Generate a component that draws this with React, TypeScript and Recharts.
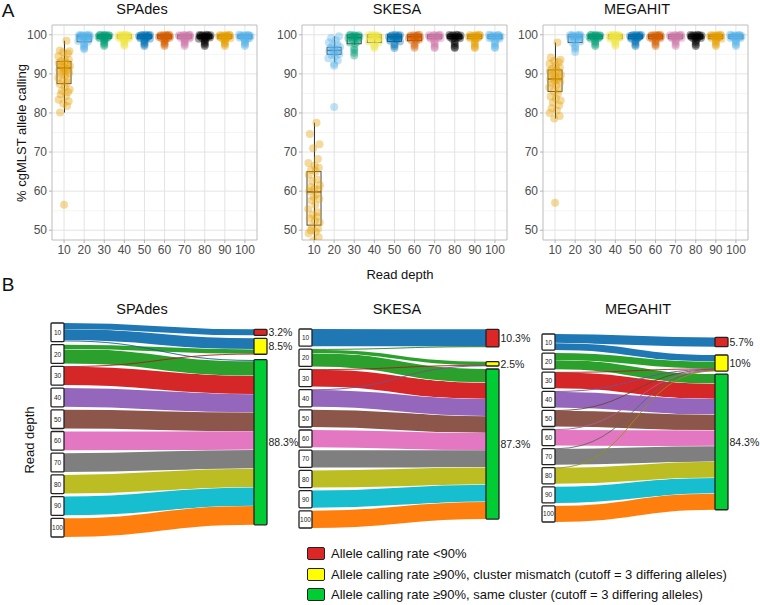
import React from "react";
import { ComposedChart, Scatter, Bar, XAxis, YAxis, CartesianGrid, Sankey } from "recharts";

const DEPTHS = [10, 20, 30, 40, 50, 60, 70, 80, 90, 100];
const X_POS = [1, 2, 3, 4, 5, 6, 7, 8, 9, 10];
const Y_TICKS = [50, 60, 70, 80, 90, 100];
const Y_MINOR = [55, 65, 75, 85, 95];

const DEPTH_COLORS = ["#E69F00", "#56B4E9", "#009E73", "#F0E442", "#0072B2", "#D55E00", "#CC79A7", "#000000", "#E69F00", "#56B4E9"];
const FLOW_COLORS = ["#1f77b4", "#2ca02c", "#d62728", "#9467bd", "#8c564b", "#e377c2", "#7f7f7f", "#bcbd22", "#17becf", "#ff7f0e"];
const OUTCOME_COLORS = ["#dd2626", "#ffff00", "#00cc33"];
const OUTCOMES = [
  "Allele calling rate <90%",
  "Allele calling rate ≥90%, cluster mismatch (cutoff = 3 differing alleles)",
  "Allele calling rate ≥90%, same cluster (cutoff = 3 differing alleles)",
];

// horizontal jitter (in category units)
const JITTER = [0.12, -0.21, 0.27, -0.05, 0.19, -0.28, 0.03, 0.24, -0.15, 0.08, -0.26, 0.16, -0.09, 0.29, -0.18, 0.01, 0.22, -0.24, 0.11, -0.02,
  0.26, -0.13, 0.06, -0.29, 0.18, -0.07, 0.14, -0.22, 0.04, 0.28, -0.11, 0.2, -0.17, 0.09, -0.27, 0.23, -0.04, 0.15, -0.2, 0.07];

// ---- SPAdes ----
const spadesPoints = [
  [98.5, 96.0, 95.8, 95.5, 95.2, 94.5, 94.0, 93.6, 93.3, 93.0, 92.8, 92.5, 92.3, 92.0, 91.8, 91.5, 91.3, 91.0, 90.7, 90.5, 90.2, 90.0, 89.6, 89.0, 88.6, 88.2, 87.8, 87.4, 86.6, 86.0, 85.7, 85.3, 84.8, 84.3, 83.4, 83.0, 82.4, 81.8, 80.1],
  [100, 99.95, 99.9, 99.85, 99.8, 99.75, 99.7, 99.6, 99.55, 99.5, 99.4, 99.3, 99.2, 99.0, 98.8, 98.6, 98.4, 98.2],
  [100, 99.95, 99.9, 99.9, 99.85, 99.8, 99.75, 99.7, 99.6, 99.5, 99.4, 99.3, 99.2, 99.1, 99.0],
  [100, 99.95, 99.9, 99.85, 99.8, 99.8, 99.7, 99.65, 99.6, 99.5, 99.4, 99.3, 99.2, 99.1, 99.0],
  [100, 99.95, 99.9, 99.9, 99.85, 99.8, 99.7, 99.7, 99.6, 99.5, 99.45, 99.3, 99.2, 99.1, 99.0],
  [100, 99.95, 99.9, 99.85, 99.8, 99.75, 99.7, 99.6, 99.6, 99.5, 99.4, 99.3, 99.2, 99.1, 99.0],
  [100, 99.95, 99.9, 99.9, 99.85, 99.8, 99.75, 99.7, 99.6, 99.5, 99.4, 99.35, 99.2, 99.1, 99.0],
  [100, 99.95, 99.9, 99.85, 99.85, 99.8, 99.7, 99.65, 99.6, 99.5, 99.4, 99.3, 99.2, 99.1, 99.0],
  [100, 99.95, 99.9, 99.9, 99.8, 99.75, 99.7, 99.6, 99.55, 99.5, 99.4, 99.3, 99.2, 99.1, 99.0],
  [100, 99.95, 99.9, 99.85, 99.8, 99.8, 99.7, 99.6, 99.6, 99.5, 99.4, 99.3, 99.2, 99.1, 99.0],
];
const spadesOutliers = [
  [56.5],
  [97.8, 97.4, 97.0, 96.6, 96.3],
  [98.7, 98.3, 97.9, 97.5, 97.1],
  [98.7, 98.3, 97.9, 97.5, 97.1],
  [98.7, 98.3, 97.9, 97.5, 97.1],
  [98.7, 98.3, 97.9, 97.5, 97.1],
  [98.7, 98.3, 97.9, 97.5, 97.1],
  [98.7, 98.3, 97.9, 97.5, 97.1],
  [98.7, 98.3, 97.9, 97.5, 97.1],
  [98.7, 98.3, 97.9, 97.5, 97.1],
];
// [min, q1, median, q3, max]
const spadesBoxes = [
  [80.1, 87.5, 91.5, 93.2, 98.5],
  [97.9, 98.2, 99.6, 99.95, 100],
  [99.0, 99.1, 99.7, 100, 100],
  [99.0, 99.1, 99.7, 100, 100],
  [99.0, 99.1, 99.7, 100, 100],
  [99.0, 99.1, 99.7, 100, 100],
  [99.0, 99.1, 99.7, 100, 100],
  [99.0, 99.1, 99.7, 100, 100],
  [99.0, 99.1, 99.7, 100, 100],
  [99.0, 99.1, 99.7, 100, 100],
];

// ---- SKESA ----
const skesaPoints = [
  [77.5, 74.6, 72.0, 71.0, 68.2, 67.2, 66.5, 66.0, 65.4, 65.0, 64.2, 63.0, 62.6, 61.5, 61.0, 60.6, 60.4, 60.0, 59.2, 58.5, 58.0, 57.6, 56.5, 55.4, 54.6, 54.0, 53.5, 53.0, 52.4, 52.0, 51.0, 50.4, 50.0, 49.6, 49.2, 48.2, 47.4],
  [99.6, 99.2, 98.6, 98.0, 97.6, 97.2, 96.9, 96.6, 96.4, 96.1, 95.9, 95.6, 95.4, 95.1, 94.8, 94.5, 94.0, 93.4],
  [100, 99.9, 99.85, 99.8, 99.7, 99.6, 99.5, 99.4, 99.3, 99.1, 98.9, 98.6, 98.3, 98.0, 97.7],
  [100, 99.9, 99.85, 99.8, 99.7, 99.6, 99.5, 99.4, 99.3, 99.2, 99.0, 98.8, 98.5, 98.2, 98.0],
  [100, 99.9, 99.85, 99.8, 99.7, 99.6, 99.5, 99.4, 99.3, 99.2, 99.0, 98.9, 98.7, 98.5, 98.3],
  [100, 99.9, 99.85, 99.8, 99.7, 99.6, 99.5, 99.4, 99.3, 99.2, 99.1, 99.0, 98.8, 98.6, 98.5],
  [100, 99.95, 99.9, 99.85, 99.8, 99.7, 99.6, 99.5, 99.4, 99.3, 99.2, 99.1, 99.0],
  [100, 99.95, 99.9, 99.85, 99.8, 99.7, 99.6, 99.5, 99.4, 99.3, 99.2, 99.1, 99.0],
  [100, 99.95, 99.9, 99.85, 99.8, 99.7, 99.6, 99.5, 99.4, 99.3, 99.2, 99.1, 99.0],
  [100, 99.95, 99.9, 99.85, 99.8, 99.7, 99.6, 99.5, 99.4, 99.3, 99.2, 99.1, 99.0],
];
const skesaOutliers = [
  [],
  [92.6, 92.1, 81.5],
  [96.6, 96.1, 95.4, 94.7],
  [97.4, 97.0, 96.6],
  [97.6, 97.1, 96.6],
  [97.7, 97.2, 96.7],
  [98.4, 97.9, 97.4, 96.9, 96.6],
  [98.4, 97.9, 97.4, 96.9, 96.6],
  [98.4, 97.9, 97.4, 96.9, 96.6],
  [98.4, 97.9, 97.4, 96.9, 96.6],
];
const skesaBoxes = [
  [45.0, 51.3, 59.8, 65.0, 77.5],
  [93.0, 95.0, 96.0, 96.8, 99.6],
  [97.4, 97.7, 99.3, 100, 100],
  [98.0, 98.0, 99.4, 100, 100],
  [98.3, 98.3, 99.5, 100, 100],
  [98.5, 98.5, 99.5, 100, 100],
  [99.0, 99.0, 99.6, 100, 100],
  [99.0, 99.0, 99.6, 100, 100],
  [99.0, 99.0, 99.6, 100, 100],
  [99.0, 99.0, 99.6, 100, 100],
];

// ---- MEGAHIT ----
const megahitPoints = [
  [98.0, 94.2, 93.6, 93.3, 93.0, 92.6, 92.1, 91.6, 91.3, 91.0, 90.8, 90.5, 90.1, 89.8, 89.5, 89.2, 89.0, 88.7, 88.5, 88.2, 87.9, 87.5, 87.0, 86.5, 86.0, 85.5, 85.0, 84.2, 83.7, 83.2, 82.7, 82.0, 81.2, 80.6, 80.0, 79.2, 78.6],
  [100, 99.95, 99.9, 99.85, 99.8, 99.7, 99.6, 99.5, 99.4, 99.3, 99.1, 98.9, 98.6, 98.3, 98.0],
  [100, 99.95, 99.9, 99.85, 99.8, 99.75, 99.7, 99.6, 99.5, 99.4, 99.3, 99.2, 99.1, 99.0],
  [100, 99.95, 99.9, 99.85, 99.8, 99.75, 99.7, 99.6, 99.5, 99.4, 99.3, 99.2, 99.1, 99.0],
  [100, 99.95, 99.9, 99.85, 99.8, 99.75, 99.7, 99.6, 99.5, 99.4, 99.3, 99.2, 99.1, 99.0],
  [100, 99.95, 99.9, 99.85, 99.8, 99.75, 99.7, 99.6, 99.5, 99.4, 99.3, 99.2, 99.1, 99.0],
  [100, 99.95, 99.9, 99.85, 99.8, 99.75, 99.7, 99.6, 99.5, 99.4, 99.3, 99.2, 99.1, 99.0],
  [100, 99.95, 99.9, 99.85, 99.8, 99.75, 99.7, 99.6, 99.5, 99.4, 99.3, 99.2, 99.1, 99.0],
  [100, 99.95, 99.9, 99.85, 99.8, 99.75, 99.7, 99.6, 99.5, 99.4, 99.3, 99.2, 99.1, 99.0],
  [100, 99.95, 99.9, 99.85, 99.8, 99.75, 99.7, 99.6, 99.5, 99.4, 99.3, 99.2, 99.1, 99.0],
];
const megahitOutliers = [
  [57.0],
  [97.4, 96.9, 96.4, 95.6],
  [98.5, 98.0, 97.5, 97.1],
  [98.5, 98.0, 97.5, 97.1],
  [98.5, 98.0, 97.5, 97.1],
  [98.5, 98.0, 97.5, 97.1],
  [98.5, 98.0, 97.5, 97.1],
  [98.5, 98.0, 97.5, 97.1],
  [98.5, 98.0, 97.5, 97.1],
  [98.5, 98.0, 97.5, 97.1],
];
const megahitBoxes = [
  [78.6, 85.5, 88.7, 91.0, 98.0],
  [97.8, 98.0, 99.5, 100, 100],
  [99.0, 99.0, 99.6, 100, 100],
  [99.0, 99.0, 99.6, 100, 100],
  [99.0, 99.0, 99.6, 100, 100],
  [99.0, 99.0, 99.6, 100, 100],
  [99.0, 99.0, 99.6, 100, 100],
  [99.0, 99.0, 99.6, 100, 100],
  [99.0, 99.0, 99.6, 100, 100],
  [99.0, 99.0, 99.6, 100, 100],
];

// ---- Sankey counts per read depth: <90%, mismatch, same cluster ----
const spadesRed = [15, 0, 0, 0, 0, 0, 0, 0, 0, 0];
const spadesYellow = [28, 11, 1, 0, 0, 0, 0, 0, 0, 0];
const spadesGreen = [4, 36, 46, 47, 47, 47, 47, 47, 47, 47];
const spadesShares = ["3.2%", "8.5%", "88.3%"];

const skesaRed = [40, 1, 0, 0, 0, 0, 0, 0, 0, 0];
const skesaYellow = [0, 8, 1, 1, 0, 0, 0, 0, 0, 0];
const skesaGreen = [0, 31, 39, 39, 40, 40, 40, 40, 40, 40];
const skesaShares = ["10.3%", "2.5%", "87.3%"];

const megahitRed = [23, 0, 0, 0, 0, 0, 0, 0, 0, 0];
const megahitYellow = [17, 17, 1, 1, 1, 1, 1, 1, 0, 0];
const megahitGreen = [0, 23, 39, 39, 39, 39, 39, 39, 40, 40];
const megahitShares = ["5.7%", "10%", "84.3%"];

const FONT = '"Liberation Sans", Arial, Helvetica, sans-serif';

function boxRows(stats: number[][]) {
  return stats.map((s, i) => ({ x: i + 1, whisker: [s[0], s[4]], box: [s[1], s[3]], q1: s[1], med: s[2], q3: s[3] }));
}

function pointRows(points: number[][], outliers: number[][]) {
  const rows: any[] = [];
  points.forEach((vals, i) =>
    vals.forEach((v, j) => rows.push({ x: i + 1 + JITTER[(j + i * 7) % JITTER.length], y: v, d: i }))
  );
  outliers.forEach((vals, i) => vals.forEach((v) => rows.push({ x: i + 1, y: v, d: i })));
  return rows;
}

const PointDot = (props: any) => {
  const { cx, cy, payload } = props;
  if (cx == null || cy == null) return null;
  return <circle cx={cx} cy={cy} r={4} fill={DEPTH_COLORS[payload.d]} fillOpacity={0.38} />;
};

const BoxShape = (props: any) => {
  const { x, y, width, height, payload } = props;
  const span = payload.q3 - payload.q1;
  const ym = span > 0 ? y + (height * (payload.q3 - payload.med)) / span : y;
  return (
    <g>
      <rect x={x} y={y} width={width} height={Math.max(height, 0)} fill="none" stroke="#333" strokeWidth={0.9} />
      <line x1={x} x2={x + width} y1={ym} y2={ym} stroke="#333" strokeWidth={1.4} />
    </g>
  );
};

function BoxPanel({ left, stats, points, outliers }: any) {
  const tick = { fontSize: 12, fill: "#4d4d4d" };
  return (
    <div style={{ position: "absolute", left, top: 0 }}>
      <ComposedChart width={262} height={262} data={boxRows(stats)} margin={{ top: 25, right: 5, bottom: 2, left: 22 }}>
        <CartesianGrid horizontalValues={Y_MINOR} vertical={false} stroke="#f0f0f0" strokeWidth={0.7} />
        <CartesianGrid horizontalValues={Y_TICKS} verticalValues={X_POS} stroke="#e3e3e3" />
        <CartesianGrid horizontalValues={[47.5, 102.5]} verticalValues={[0.4, 10.6]} stroke="#bdbdbd" />
        <XAxis
          type="number"
          dataKey="x"
          domain={[0.4, 10.6]}
          ticks={X_POS}
          interval={0}
          allowDataOverflow
          tickFormatter={(v) => String(DEPTHS[v - 1])}
          axisLine={false}
          tickLine={{ stroke: "#b3b3b3" }}
          tickSize={3}
          tickMargin={2}
          tick={tick}
          height={20}
        />
        <XAxis xAxisId="wh" type="number" dataKey="x" domain={[0.4, 10.6]} allowDataOverflow hide />
        <XAxis xAxisId="pts" type="number" dataKey="x" domain={[0.4, 10.6]} allowDataOverflow hide />
        <YAxis
          domain={[47.5, 102.5]}
          ticks={Y_TICKS}
          interval={0}
          allowDataOverflow
          width={30}
          axisLine={false}
          tickLine={{ stroke: "#b3b3b3" }}
          tickSize={3}
          tickMargin={2}
          tick={tick}
        />
        <Scatter xAxisId="pts" data={pointRows(points, outliers)} dataKey="y" shape={PointDot} isAnimationActive={false} />
        <Bar xAxisId="wh" dataKey="whisker" barSize={1} fill="#333" isAnimationActive={false} />
        <Bar dataKey="box" barSize={14} shape={BoxShape} isAnimationActive={false} />
      </ComposedChart>
    </div>
  );
}

function FlowNode(props: any) {
  const { x, y, width, height, index, shares } = props;
  if (index < DEPTHS.length) {
    return (
      <g>
        <rect x={x} y={y} width={width} height={height} fill="#fff" stroke="#222" strokeWidth={1.3} rx={1} />
        <text x={x + width / 2} y={y + height / 2} textAnchor="middle" dominantBaseline="central" fontSize={6.5} fill="#222">
          {DEPTHS[index]}
        </text>
      </g>
    );
  }
  const k = index - DEPTHS.length;
  return (
    <g>
      <rect x={x} y={y} width={width} height={height} fill={OUTCOME_COLORS[k]} stroke="#222" strokeWidth={1.3} rx={1} />
      <text x={x + width + 1.5} y={y + height / 2} dominantBaseline="central" fontSize={10.5} fill="#222">
        {shares[k]}
      </text>
    </g>
  );
}

function FlowLink(props: any) {
  const { sourceX, targetX, sourceY, targetY, sourceControlX, targetControlX, linkWidth, index, links } = props;
  const color = FLOW_COLORS[links[index].source];
  const d = `M${sourceX},${sourceY}C${sourceControlX},${sourceY} ${targetControlX},${targetY} ${targetX},${targetY}`;
  const thin = linkWidth < 2;
  return (
    <g>
      {!thin && <path d={d} fill="none" stroke="#fff" strokeWidth={linkWidth + 0.8} />}
      <path d={d} fill="none" stroke={color} strokeWidth={thin ? 0.9 : linkWidth} strokeOpacity={thin ? 0.9 : 1} />
      {thin && <path d={d} fill="none" stroke="#000" strokeWidth={0.4} strokeOpacity={0.5} />}
    </g>
  );
}

function FlowPanel({ left, top, width, height, red, yellow, green, shares }: any) {
  const nodes = [...DEPTHS.map((d) => ({ name: String(d) })), ...OUTCOMES.map((name) => ({ name }))];
  const links: any[] = [];
  [red, yellow, green].forEach((counts: number[], k: number) =>
    counts.forEach((v, i) => {
      if (v > 0) links.push({ source: i, target: DEPTHS.length + k, value: v });
    })
  );
  // thick flows first so the single-sample ribbons stay on top
  links.sort((a, b) => b.value - a.value);
  return (
    <div style={{ position: "absolute", left: left - 5, top: top - 5 }}>
      <Sankey
        width={width + 10}
        height={height + 10}
        data={{ nodes, links }}
        nodeWidth={13}
        nodePadding={3}
        iterations={32}
        sort={false}
        margin={{ top: 5, right: 5, bottom: 5, left: 5 }}
        node={(p: any) => <FlowNode {...p} shares={shares} />}
        link={(p: any) => <FlowLink {...p} links={links} />}
      />
    </div>
  );
}

function Txt({ x, y, size, rotate, color, children }: any) {
  return (
    <div
      style={{
        position: "absolute",
        left: x,
        top: y,
        fontSize: size,
        lineHeight: 1,
        whiteSpace: "nowrap",
        color: color || "#111",
        transform: `translate(-50%, -50%)${rotate ? " rotate(-90deg)" : ""}`,
      }}
    >
      {children}
    </div>
  );
}

export default function App() {
  return (
    <div style={{ position: "absolute", left: 0, top: 0, width: 760, height: 605, background: "#fff", fontFamily: FONT, overflow: "hidden" }}>
      <style>{"svg.recharts-surface{overflow:visible}"}</style>

      {/* A: allele calling per read depth */}
      <Txt x={8} y={10} size={19}>A</Txt>
      <Txt x={142} y={9} size={14.5}>SPAdes</Txt>
      <Txt x={397} y={9} size={14.5}>SKESA</Txt>
      <Txt x={637} y={9} size={14.5}>MEGAHIT</Txt>
      <Txt x={21} y={133} size={13} rotate>% cgMLST allele calling</Txt>
      <Txt x={400} y={274} size={13}>Read depth</Txt>

      <BoxPanel left={0} stats={spadesBoxes} points={spadesPoints} outliers={spadesOutliers} />
      <BoxPanel left={250} stats={skesaBoxes} points={skesaPoints} outliers={skesaOutliers} />
      <BoxPanel left={491} stats={megahitBoxes} points={megahitPoints} outliers={megahitOutliers} />

      {/* B: sankey of outcomes */}
      <Txt x={8} y={284} size={19}>B</Txt>
      <Txt x={142} y={309} size={14.5}>SPAdes</Txt>
      <Txt x={397} y={309} size={14.5}>SKESA</Txt>
      <Txt x={638} y={309} size={14.5}>MEGAHIT</Txt>
      <Txt x={29} y={440} size={13} rotate>Read depth</Txt>

      <FlowPanel left={51} top={323} width={216} height={214} red={spadesRed} yellow={spadesYellow} green={spadesGreen} shares={spadesShares} />
      <FlowPanel left={299} top={329} width={200} height={199} red={skesaRed} yellow={skesaYellow} green={skesaGreen} shares={skesaShares} />
      <FlowPanel left={542} top={334} width={186} height={188} red={megahitRed} yellow={megahitYellow} green={megahitGreen} shares={megahitShares} />

      {OUTCOMES.map((t, i) => (
        <div key={t} style={{ position: "absolute", left: 307, top: 547 + i * 20.7, display: "flex", alignItems: "center", gap: 6 }}>
          <div style={{ width: 16, height: 11, background: OUTCOME_COLORS[i], border: "1.4px solid #222", borderRadius: 2 }} />
          <span style={{ fontSize: 13, color: "#111", lineHeight: 1 }}>{t}</span>
        </div>
      ))}
    </div>
  );
}
